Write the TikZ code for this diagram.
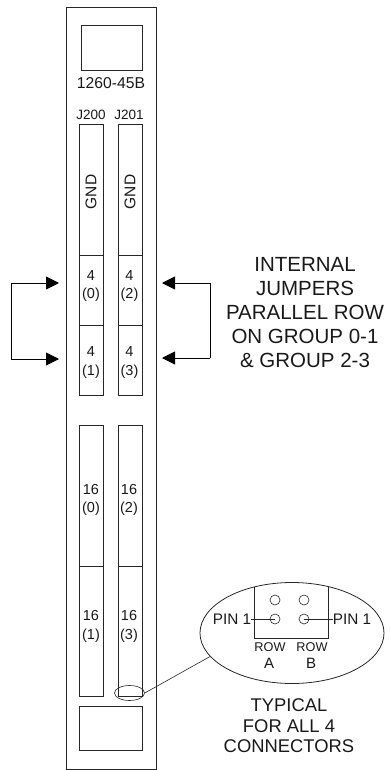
\documentclass[tikz,border=0pt]{standalone}
\usepackage{fontspec}
\setmainfont{Liberation Sans}
\usetikzlibrary{arrows.meta,shapes.geometric}
\tikzset{
  x=1pt,y=-1pt,
  ln/.style={draw=black!85,line width=0.8pt},
  thin line/.style={draw=black!85,line width=0.6pt},
  conbox/.style={ln,anchor=north west,inner sep=0pt,minimum width=24pt},
  txt/.style={align=center,inner sep=0pt,text=black!90},
  label num/.style={txt,font=\fontsize{14.5}{18.5}\selectfont},
  jump/.style={line width=0.9pt,-{Triangle[length=13pt,width=13pt]}},
  pin/.style={circle,thin line,inner sep=0pt,minimum size=10pt},
}
\begin{document}
\begin{tikzpicture}
\useasboundingbox (0,0) rectangle (389,770);
\node[ln,anchor=north west,inner sep=0,minimum width=90pt,minimum height=761.5pt] (panel) at (66,7) {};
\node[ln,anchor=north west,inner sep=0,minimum width=61pt,minimum height=45pt] (top) at (81,25) {};
\node[txt,font=\fontsize{15.7}{18}\selectfont] (model) at (111,83) {1260-45B};
\node[txt,font=\fontsize{13.5}{15}\selectfont] (j200) at (91,115) {J200};
\node[txt,font=\fontsize{13.5}{15}\selectfont] (j201) at (129,115) {J201};
\foreach \n/\x/\y/\h in {
 a/79/124/131,b/79/255/70,c/79/325/70,
 d/117.5/124/131,e/117.5/255/70,f/117.5/325/70,
 g/79/425/141,h/79/566/130,
 i/117.5/425/141,j/117.5/566/130}{
  \node[conbox,minimum height=\h pt] (\n) at (\x,\y) {};
}
\node[rotate=90,txt,font=\fontsize{15.5}{18}\selectfont] (g1) at (91,192) {GND};
\node[rotate=90,txt,font=\fontsize{15.5}{18}\selectfont] (g2) at (130,192) {GND};
\node[label num] (lb) at (91,286) {4\\(0)};
\node[label num] (lc) at (91,362.5) {4\\(1)};
\node[label num] (le) at (129.5,286) {4\\(2)};
\node[label num] (lf) at (129.5,362.5) {4\\(3)};
\node[label num] (lg) at (91,500) {16\\(0)};
\node[label num] (lh) at (91,626.5) {16\\(1)};
\node[label num] (li) at (129,500) {16\\(2)};
\node[label num] (lj) at (129,626.5) {16\\(3)};
\node[ln,anchor=north west,inner sep=0,minimum width=63pt,minimum height=44pt] (bot) at (79,706) {};
\coordinate (aa) at (59,283);
\coordinate (ab) at (59,359);
\coordinate (ac) at (162,283);
\coordinate (ad) at (162,358);
\coordinate (ae) at (11,283);
\coordinate (af) at (11,359);
\coordinate (ag) at (210,283);
\coordinate (ah) at (210,358);
\draw[jump] (ae) -- (aa);
\draw[jump] (af) -- (ab);
\draw[line width=0.9pt,black,line cap=rect] (ae) -- (af);
\draw[jump] (ag) -- (ac);
\draw[jump] (ah) -- (ad);
\draw[line width=0.9pt,black,line cap=rect] (ag) -- (ah);
\node[txt,font=\fontsize{20.5}{24}\selectfont] (note) at (305,313) {INTERNAL\\JUMPERS\\PARALLEL ROW\\ON GROUP 0-1\\\& GROUP 2-3};
\node[ln,ellipse,inner sep=0,minimum width=184pt,minimum height=101pt] (oval) at (292,633) {};
\node[thin line,ellipse,inner sep=0,minimum width=30pt,minimum height=15pt] (small) at (129.5,693) {};
\draw[thin line] (small.east) -- (oval.196);
\coordinate (sa) at (254,587);
\coordinate (sb) at (254,638);
\coordinate (sc) at (328,638);
\coordinate (sd) at (328,587);
\draw[ln] (sa) -- (sb) -- (sc) -- (sd);
\node[pin] (p1) at (275,600) {};
\node[pin] (p2) at (304,600) {};
\node[pin] (p3) at (275,619) {};
\node[pin] (p4) at (304,619) {};
\node[txt,font=\fontsize{15.3}{18}\selectfont] (pl) at (232,619) {PIN 1};
\node[txt,font=\fontsize{15.3}{18}\selectfont] (pr) at (352,619) {PIN 1};
\draw[thin line] (pl.east) -- (p3.center);
\draw[thin line] (pr.west) -- (p4.center);
\node[txt,font=\fontsize{12.7}{15}\selectfont] (ra1) at (270,647) {ROW};
\node[txt,font=\fontsize{12.7}{15}\selectfont] (rb1) at (312,647) {ROW};
\node[txt,font=\fontsize{15}{18}\selectfont] (ra2) at (269,663) {A};
\node[txt,font=\fontsize{15}{18}\selectfont] (rb2) at (311,663) {B};
\node[txt,font=\fontsize{18.4}{20.5}\selectfont] (typ) at (289,726) {TYPICAL\\FOR ALL 4\\CONNECTORS};
\end{tikzpicture}
\end{document}
